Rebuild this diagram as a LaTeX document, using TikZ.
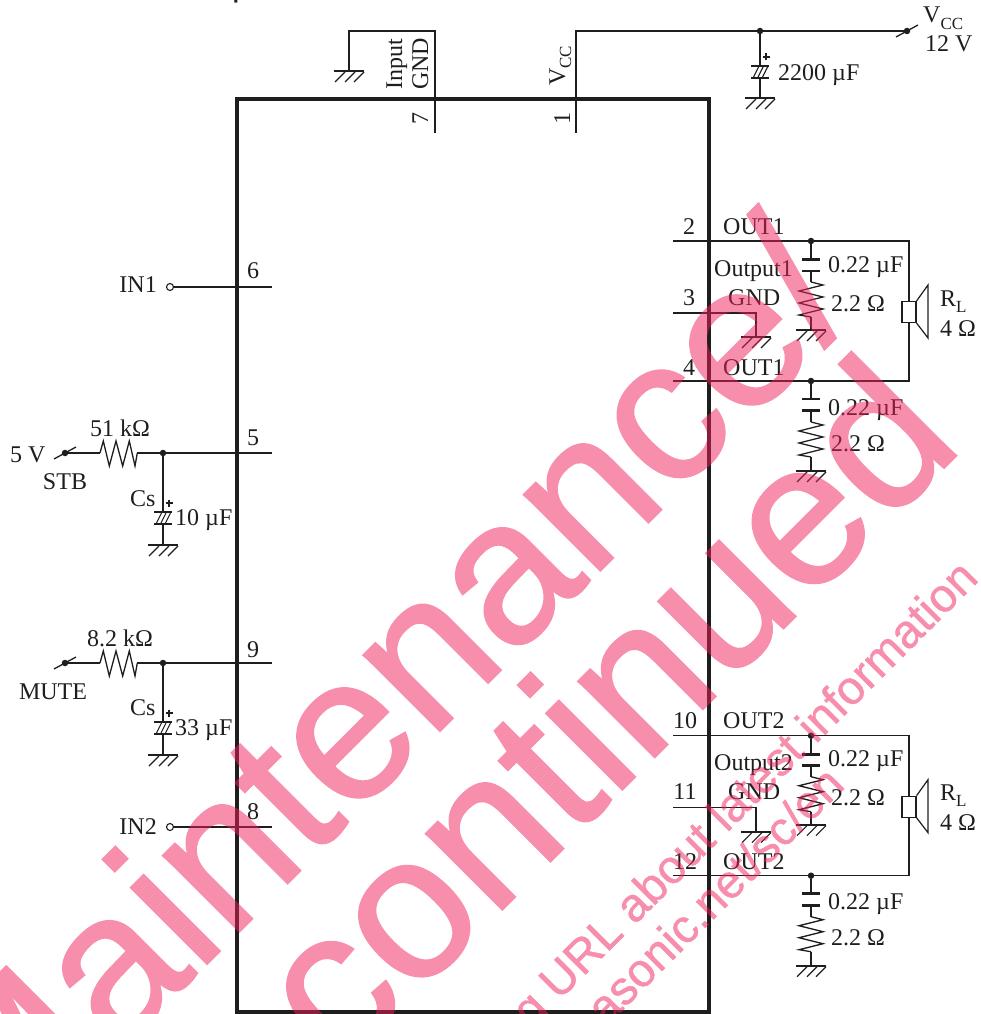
\documentclass[tikz,border=0pt]{standalone}
\usepackage{fontspec}
\setmainfont{Liberation Serif}
\newfontfamily\wmfont[FakeBold=1]{Liberation Sans}
\newfontfamily\ttlfont{Liberation Sans Bold}
\usetikzlibrary{calc}
\definecolor{ink}{HTML}{1E1E1E}
\definecolor{wm}{HTML}{F01E5A}
\newcommand\sbs[1]{\raisebox{-0.26em}{\fontsize{17}{17}\selectfont #1}}
\tikzset{
  x=1pt,y=-1pt,
  wire/.style={draw=ink,line width=1.3pt,line join=miter},
  chip/.style={draw=ink,line width=4pt},
  lbl/.style={text=ink,inner sep=0pt,font=\fontsize{24}{24}\selectfont},
  lw/.style={lbl,anchor=base west},
  lc/.style={lbl,anchor=base},
  le/.style={lbl,anchor=base east},
  up/.style={lbl,anchor=base west,rotate=90},
  dotn/.style={circle,fill=ink,draw=none,inner sep=0pt,minimum size=6.5pt},
  opn/.style={circle,draw=ink,fill=white,line width=1.1pt,inner sep=0pt,minimum size=7pt},
  wmbig/.style={text=wm,inner sep=0pt,anchor=base west,rotate=45,font=\wmfont\fontsize{204}{204}\selectfont},
  wmsmall/.style={wmbig,font=\wmfont\fontsize{47}{47}\selectfont},
  gnd/.pic={
    \coordinate (-top) at (0,0);
    \draw[wire,line width=2.2pt] (-15,0)--(15,0);
    \foreach \d in {-4,6,15}{\draw[wire,line width=1.1pt] (\d,1)--(\d-10,11);}
  },
  rmv/.pic={
    \draw[wire] (0,0)--(12,3)--(-12,9)--(12,15)--(-12,21)--(12,27)--(-12,33)--(0,35);
  },
  rmh/.pic={
    \draw[wire] (0,0)--(3.3,-12)--(9.3,13)--(16,-12)--(22.7,13)--(29.3,-12)--(35,13)--(37.3,0);
  },
  cap/.pic={
    \draw[wire,line width=2.8pt] (-9,0)--(9,0) (-9,11.5)--(9,11.5);
  },
  ecap/.pic={
    \draw[wire,line width=2.8pt] (-9,0)--(9,0) (-9,12)--(9,12);
    \foreach \d in {-1.5,3,7.5}{\draw[wire,line width=1.1pt] (\d,1)--(\d-5,11);}
    \draw[wire,line width=1.2pt] (2.5,-9)--(9.5,-9) (6,-12.5)--(6,-5.5);
  },
  sw/.pic={
    \draw[wire] (-11,6)--(11,-6);
  }
}
\begin{document}
\begin{tikzpicture}
\useasboundingbox (0,0) rectangle (980,1014);
\clip (0,0) rectangle (980,1014);

\node[lbl,anchor=base east,font=\ttlfont\fontsize{22}{22}\selectfont] (ttl) at (265,-1) {cation Circuit Example};

% IC body
\coordinate (icnw) at (237,99);
\coordinate (icne) at (709,99);
\coordinate (icse) at (709,1012);
\coordinate (icsw) at (237,1012);
\draw[chip] (icnw)--(icne)--(icse)--(icsw)--cycle;

% pin 7 and input ground
\coordinate (p7i) at (435,133);
\coordinate (p7t) at (435,31);
\coordinate (p7g) at (349,31);
\coordinate (p7b) at (349,71);
\draw[wire] (p7i)--(p7t)--(p7g)--(p7b);
\pic at (p7b) {gnd};
\node[up] (t7) at (428,125) {7};
\node[up] (tinput) at (402,90) {Input};
\node[up] (tgnd) at (428,90) {GND};

% pin 1 and supply
\coordinate (p1i) at (576,133);
\coordinate (p1t) at (576,31);
\node[dotn] (jvcc) at (760,31) {};
\node[dotn] (swvcc) at (907,31) {};
\coordinate (cvcc1) at (760,66);
\coordinate (cvcc2) at (760,78);
\coordinate (gvcc) at (760,98);
\draw[wire] (p1i)--(p1t)--(jvcc)--(swvcc);
\draw[wire] (jvcc)--(cvcc1) (cvcc2)--(gvcc);
\pic at (cvcc1) {ecap};
\pic at (gvcc) {gnd};
\pic at (swvcc) {sw};
\node[up] (t1) at (570,125) {1};
\node[up] (tvccp) at (565,86) {V\sbs{CC}};
\node[lw] (tvcc) at (923,23) {V\sbs{CC}};
\node[lw] (t12) at (925,52) {12 V};
\node[lw] (t2200) at (778,81) {2200 µF};

% pin 6
\node[opn] (in1) at (170,287) {};
\coordinate (p6) at (272,287);
\draw[wire] (in1)--(p6);
\node[le] (tin1) at (157,292) {IN1};
\node[lw] (t6) at (247,278) {6};

% pin 8
\node[opn] (in2) at (170,827) {};
\coordinate (p8) at (272,827);
\draw[wire] (in2)--(p8);
\node[le] (tin2) at (157,834) {IN2};
\node[lw] (t8) at (247,819) {8};

% pin 5
\node[dotn] (sw5) at (65,453) {};
\coordinate (r5a) at (100,453);
\coordinate (r5b) at (137.3,453);
\node[dotn] (j5) at (163,453) {};
\coordinate (p5) at (272,453);
\draw[wire] (sw5)--(r5a) (r5b)--(j5)--(p5);
\pic at (sw5) {sw};
\pic at (r5a) {rmh};
\coordinate (c5a) at (163,512);
\coordinate (c5b) at (163,524);
\coordinate (g5) at (163,545);
\draw[wire] (j5)--(c5a) (c5b)--(g5);
\pic at (c5a) {ecap};
\pic at (g5) {gnd};
\node[lc] (t51k) at (120,436) {51 kΩ};
\node[lw] (t5v) at (10,462) {5 V};
\node[lc] (tstb) at (65,489) {STB};
\node[lw] (tcs5) at (130,506) {Cs};
\node[lw] (t10u) at (175,525) {10 µF};
\node[lw] (t5) at (247,445) {5};

% pin 9
\node[dotn] (sw9) at (65,663) {};
\coordinate (r9a) at (100,663);
\coordinate (r9b) at (137.3,663);
\node[dotn] (j9) at (163,663) {};
\coordinate (p9) at (272,663);
\draw[wire] (sw9)--(r9a) (r9b)--(j9)--(p9);
\pic at (sw9) {sw};
\pic at (r9a) {rmh};
\coordinate (c9a) at (163,722);
\coordinate (c9b) at (163,734);
\coordinate (g9) at (163,755);
\draw[wire] (j9)--(c9a) (c9b)--(g9);
\pic at (c9a) {ecap};
\pic at (g9) {gnd};
\node[lc] (t82k) at (120,646) {8.2 kΩ};
\node[lc] (tmute) at (53,699) {MUTE};
\node[lw] (tcs9) at (130,715) {Cs};
\node[lw] (t33u) at (175,735) {33 µF};
\node[lw] (t9) at (247,657) {9};

% output blocks
\newcommand\outblock[8]{%
  \begin{scope}[shift={(0,#1)}]
    \coordinate (#2pa) at (673,241);
    \node[dotn] (#2ja) at (811,241) {};
    \coordinate (#2ne) at (909,241);
    \coordinate (#2se) at (909,381);
    \node[dotn] (#2jb) at (811,381) {};
    \coordinate (#2pb) at (673,381);
    \draw[wire] (#2pa)--(#2ne)--(#2se)--(#2pb);
    \coordinate (#2ca) at (811,259.5);
    \coordinate (#2cb) at (811,271);
    \coordinate (#2ra) at (811,282);
    \coordinate (#2rb) at (811,317);
    \coordinate (#2ga) at (811,330);
    \draw[wire] (#2ja)--(#2ca) (#2cb)--(#2ra) (#2rb)--(#2ga);
    \pic at (#2ca) {cap};
    \pic at (#2ra) {rmv};
    \pic at (#2ga) {gnd};
    \coordinate (#2cc) at (811,399);
    \coordinate (#2cd) at (811,410.5);
    \coordinate (#2rc) at (811,422);
    \coordinate (#2rd) at (811,457);
    \coordinate (#2gb) at (811,471);
    \draw[wire] (#2jb)--(#2cc) (#2cd)--(#2rc) (#2rd)--(#2gb);
    \pic at (#2cc) {cap};
    \pic at (#2rc) {rmv};
    \pic at (#2gb) {gnd};
    \coordinate (#2pm) at (673,313);
    \coordinate (#2gm1) at (756,313);
    \coordinate (#2gm) at (756,337);
    \draw[wire] (#2pm)--(#2gm1)--(#2gm);
    \pic at (#2gm) {gnd};
    \node[draw=ink,line width=1.2pt,inner sep=0pt,minimum width=14pt,minimum height=21pt,fill=white] (#2spk) at (909,312) {};
    \draw[wire,line width=1.2pt] (#2spk.north east)--(928,285)--(928,338)--(#2spk.south east);
    \node[lc] (#2t1) at (#5,234) {#3};
    \node[lc] (#2t2) at (#5,305) {#4};
    \node[lc] (#2t3) at (#5,375) {#6};
    \node[lw] (#2ta) at (723,234) {#7};
    \node[lw] (#2tb) at (723,375) {#7};
    \node[lw] (#2tc) at (714,276) {#8};
    \node[lw] (#2td) at (728,305) {GND};
    \node[lw] (#2te) at (828,272) {0.22 µF};
    \node[lw] (#2tf) at (831,311) {2.2 Ω};
    \node[lw] (#2tg) at (828,415) {0.22 µF};
    \node[lw] (#2th) at (831,451) {2.2 Ω};
    \node[lw] (#2ti) at (940,306) {R\sbs{L}};
    \node[lw] (#2tj) at (940,336) {4 Ω};
  \end{scope}}
\outblock{0}{a}{2}{3}{689}{4}{OUT1}{Output1}
\outblock{494.7}{b}{10}{11}{685}{12}{OUT2}{Output2}

% watermark
\begin{scope}[transparency group,opacity=.5]
\node[wmbig] (wma) at (-3,1174) {Maintenance/};
\node[wmbig] (wmb) at (340,1072) {continued};
\node[wmsmall] (wmc) at (531,1029) {g URL about latest information};
\node[wmsmall] (wmd) at (606,1027) {asonic.net/sc/en};
\end{scope}
\end{tikzpicture}
\end{document}
